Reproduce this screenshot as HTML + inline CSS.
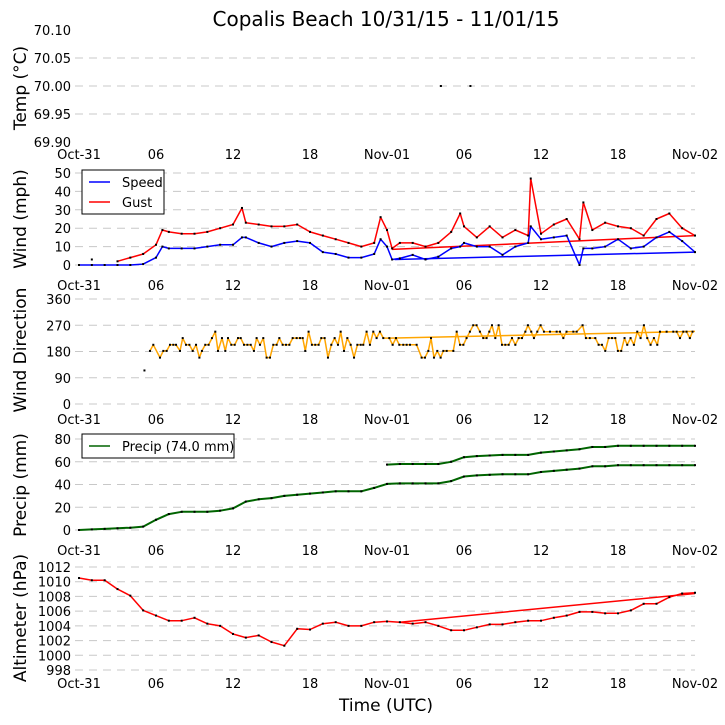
<!DOCTYPE html>
<html><head><meta charset="utf-8"><style>
body{margin:0;background:#fff;}
svg{display:block;font-family:"DejaVu Sans","Liberation Sans",sans-serif;}
</style></head><body>
<svg id="chart" width="725" height="725" viewBox="0 0 725 725" xmlns="http://www.w3.org/2000/svg">
<text x="386" y="26" font-size="20" text-anchor="middle">Copalis Beach 10/31/15 - 11/01/15</text>
<text x="386" y="711" font-size="17" text-anchor="middle">Time (UTC)</text>
</svg>
<script>
// ---- data ----
const xTickLabels = ["Oct-31","06","12","18","Nov-01","06","12","18","Nov-02"];
const tempHours = [28.2, 30.5];
const tempValues = [70.0, 70.0];
const windHours = [0,1,2,3,4,5,6,6.5,7,8,9,10,11,12,12.7,13,14,15,16,17,18,19,20,21,22,23,23.5,24,24.4,25,26,27,28,29,29.7,30,31,32,33,34,35,35.2,36,37,38,39,39.3,40,41,42,43,44,45,46,47,48];
const windSpeed = [0,0,0,0,0,0.5,4,10,9,9,9,10,11,11,15,15,12,10,12,13,12,7,6,4,4,6,14,10,3,3.6,5.5,3,4.5,9,10,12,10,10,5.5,10,12,21,14,15,16,0,9,9,10,14,9,10,15,18,13,7];
const windGust = [null,3,null,2,4,6,11,19,18,17,17,18,20,22,31,23,22,21,21,22,18,16,14,12,10,12,26,19,9,12,12,10,12,18,28,21,15,21,15,19,16,47,17,22,25,14,34,19,23,21,20,16,25,28,20,16];
const speedWrap = [[24.6,3],[48,7]];
const gustWrap = [[24.4,8.5],[48,16]];
const dirHours = [5.53,5.79,6.31,6.57,6.83,7.09,7.35,7.56,7.87,8.08,8.34,8.60,8.86,9.12,9.38,9.58,9.84,10.10,10.36,10.62,10.83,11.14,11.40,11.61,11.87,12.13,12.39,12.60,12.86,13.12,13.38,13.63,13.84,14.10,14.36,14.62,14.88,15.14,15.40,15.61,15.87,16.13,16.39,16.65,16.96,17.22,17.43,17.63,17.89,18.15,18.41,18.67,18.88,19.14,19.40,19.66,19.92,20.18,20.39,20.65,20.91,21.17,21.43,21.69,21.95,22.15,22.41,22.67,22.93,23.19,23.45,23.71,24.18,24.44,24.70,24.96,25.27,25.53,25.79,26.31,26.70,26.96,27.22,27.43,27.66,27.92,28.18,28.39,28.65,29.17,29.43,29.69,29.95,30.20,30.46,30.72,30.98,31.24,31.50,31.76,31.97,32.18,32.44,32.70,32.96,33.22,33.48,33.74,34.00,34.26,34.52,34.78,34.98,35.24,35.45,35.71,35.97,36.23,36.70,37.22,37.48,37.74,37.99,38.52,38.78,39.24,39.50,39.81,40.23,40.49,40.75,41.01,41.27,41.53,41.79,41.99,42.25,42.51,42.72,42.98,43.24,43.50,43.76,44.02,44.28,44.54,44.80,45.06,45.27,45.79,46.31,46.57,46.83,47.09,47.34,47.60,47.81];
const dirValues = [182,203,159,182,182,203,203,203,182,226,203,203,182,203,159,182,203,203,226,248,182,226,182,226,203,203,226,226,203,203,203,182,226,203,226,159,159,203,203,226,203,203,203,226,226,226,226,182,248,203,203,203,226,226,159,203,226,203,248,182,226,203,159,203,203,203,248,203,248,226,248,226,226,203,226,203,203,203,203,203,159,159,182,226,159,182,159,182,182,182,248,203,203,226,248,270,270,248,226,226,248,270,226,270,203,203,203,226,203,226,226,248,270,248,226,248,270,248,248,248,248,226,248,248,248,270,226,226,226,203,203,182,226,226,226,182,182,226,203,226,203,248,226,270,226,203,226,203,248,248,248,248,226,248,248,226,248];
const dirIsolated = [[5.1,115]];
const dirWrap = [[24.2,226],[48,249]];
const precipValues = [0,0.5,1,1.5,2,3,9,14,16,16,16,17,19,25,27,28,30,31,32,33,34,34,34,37,40.5,41,41,41,41,43,47,48,48.5,49,49,49,51,52,53,54,56,56,57,57,57,57,57,57,57];
const precipOffset = 17;
const altValues = [1010.5,1010.2,1010.2,1009.0,1008.1,1006.1,1005.4,1004.7,1004.7,1005.1,1004.3,1004.0,1002.9,1002.4,1002.7,1001.8,1001.3,1003.6,1003.5,1004.3,1004.5,1004.0,1004.0,1004.5,1004.6,1004.5,1004.3,1004.5,1004.0,1003.4,1003.4,1003.8,1004.2,1004.2,1004.5,1004.7,1004.7,1005.1,1005.4,1005.9,1005.9,1005.7,1005.7,1006.1,1007.0,1007.0,1007.9,1008.4,1008.5];
const altWrap = [[25,1004.5],[48,1008.4]];

const svg = document.getElementById('chart');
const NS = "http://www.w3.org/2000/svg";
const X0 = 79, X1 = 695;
const xs = h => X0 + (X1 - X0) * h / 48;
function el(tag, attrs, parent){ const e=document.createElementNS(NS,tag); for(const k in attrs) e.setAttribute(k,attrs[k]); (parent||svg).appendChild(e); return e; }

function panel(name, yTop, yBot, vMin, vMax, ticks, fmt, label, labelY, xLabY, gridSkipEnds){
  const g = el('g',{});
  
  
  const ys = v => yBot - (yBot - yTop) * (v - vMin) / (vMax - vMin);
  ticks.forEach((t,i) => {
    const y = ys(t);
    if (!(gridSkipEnds && (i===0 || i===ticks.length-1))) {
      const l = el('line',{x1:X0-4,x2:X1,y1:y,y2:y,stroke:'#c8c8c8','stroke-width':1,'stroke-dasharray':'8,6'},g);
      
      
    }
    const tx = el('text',{x:X0-8,y:y+5,'font-size':13,'text-anchor':'end',fill:'#000'},g);
    
    
    tx.textContent = fmt(t);
  });
  xTickLabels.forEach((s,i) => {
    const tx = el('text',{x:xs(i*6),y:xLabY,'font-size':13,'text-anchor':'middle',fill:'#000'},g);
    
    
    tx.textContent = s;
  });
  const yl = el('text',{x:0,y:0,'font-size':17,'text-anchor':'middle',transform:`translate(26,${labelY}) rotate(-90)`},g);
  
  
  yl.textContent = label;
  return {g, ys};
}
function line(g, pts, color, name, width){
  let d='', pen=false;
  pts.forEach(p => { if (p[1]==null){pen=false;return;} d += (pen?'L':'M') + p[0].toFixed(1)+','+p[1].toFixed(1)+' '; pen=true; });
  const p = el('path',{d, fill:'none', stroke:color,'stroke-width':width||1.5,'stroke-linejoin':'round'},g);
  
  
}
function dots(g, pts, name){
  pts.forEach(p => { if(p[1]==null) return;
    const r = el('rect',{x:p[0]-1,y:p[1]-1,width:2,height:2,fill:'#000'},g);
    
    
  });
}
function legend(g, x, y, w, items, name){
  const h = items.length*20 + 4;
  const box = el('rect',{x, y, width:w, height:h, fill:'#fff', stroke:'#000','stroke-width':1},g);
  
  
  items.forEach((it,i) => {
    const yy = y + 12 + i*20;
    const l = el('line',{x1:x+7,x2:x+28,y1:yy,y2:yy,stroke:it[1],'stroke-width':1.5},g);
    
    
    const t = el('text',{x:x+40,y:yy+5,'font-size':13},g);
    
    
    t.textContent = it[0];
  });
}

// Temp panel
{
  const P = panel('temp', 30, 142, 69.90, 70.10, [69.90,69.95,70.00,70.05,70.10], v=>v.toFixed(2), 'Temp (\u00B0C)', 88, 159, true);
  dots(P.g, tempHours.map((h,i)=>[xs(h), P.ys(tempValues[i])]), 'temp-point');
}
// Wind panel
{
  const P = panel('wind', 173, 265, 0, 50, [0,10,20,30,40,50], v=>v, 'Wind (mph)', 219, 290, false);
  const sp = windHours.map((h,i)=>[xs(h), P.ys(windSpeed[i])]);
  const gu = windHours.map((h,i)=>[xs(h), windGust[i]==null?null:P.ys(windGust[i])]);
  line(P.g, speedWrap.map(p=>[xs(p[0]),P.ys(p[1])]), '#0000ff', 'speed-wrap-line');
  line(P.g, gustWrap.map(p=>[xs(p[0]),P.ys(p[1])]), '#ff0000', 'gust-wrap-line');
  line(P.g, sp, '#0000ff', 'speed-line');
  line(P.g, gu, '#ff0000', 'gust-line');
  dots(P.g, sp, 'speed-point'); dots(P.g, gu, 'gust-point');
  legend(P.g, 82, 170, 82, [['Speed','#0000ff'],['Gust','#ff0000']], 'wind-legend');
}
// Direction panel
{
  const P = panel('direction', 299, 404, 0, 360, [0,90,180,270,360], v=>v, 'Wind Direction', 350, 424, false);
  const dp = dirHours.map((h,i)=>[xs(h), P.ys(dirValues[i])]);
  line(P.g, dirWrap.map(p=>[xs(p[0]),P.ys(p[1])]), '#ffa500', 'direction-wrap-line');
  line(P.g, dp, '#ffa500', 'direction-line');
  dots(P.g, dp, 'direction-point');
  dots(P.g, dirIsolated.map(p=>[xs(p[0]),P.ys(p[1])]), 'direction-point');
}
// Precip panel
{
  const P = panel('precip', 439, 530, 0, 80, [0,20,40,60,80], v=>v, 'Precip (mm)', 485, 555, false);
  const pp = precipValues.map((v,i)=>[xs(i), P.ys(v)]);
  const p2 = precipValues.slice(24).map((v,i)=>[xs(i+24), P.ys(v+precipOffset)]);
  line(P.g, pp, '#006400', 'precip-line', 2);
  line(P.g, p2, '#006400', 'precip-wrap-line', 2);
  dots(P.g, pp, 'precip-point'); dots(P.g, p2, 'precip-point');
  legend(P.g, 82, 434, 152, [['Precip (74.0 mm)','#006400']], 'precip-legend');
}
// Altimeter panel
{
  const P = panel('altimeter', 567, 670, 998, 1012, [998,1000,1002,1004,1006,1008,1010,1012], v=>v, 'Altimeter (hPa)', 618, 688, false);
  const ap = altValues.map((v,i)=>[xs(i), P.ys(v)]);
  line(P.g, altWrap.map(p=>[xs(p[0]),P.ys(p[1])]), '#ff0000', 'altimeter-wrap-line');
  line(P.g, ap, '#ff0000', 'altimeter-line');
  dots(P.g, ap, 'altimeter-point');
}
</script>
</body></html>
